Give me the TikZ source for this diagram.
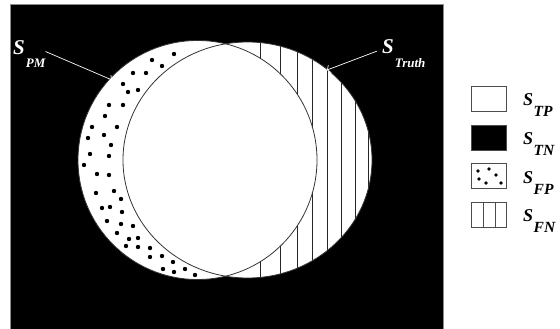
\documentclass[tikz,border=0pt]{standalone}
\usepackage{fontspec}
\setmainfont{Liberation Serif}
\usetikzlibrary{arrows.meta}
\begin{document}
\begin{tikzpicture}[x=1pt,y=-1pt,
  outl/.style={draw=black!80, line width=0.8pt},
  stripe/.style={draw=black!85, line width=0.8pt},
  pointer/.style={draw=white, line width=0.7pt, -{Straight Barb[length=2.5pt,width=8pt]}},
  lbl/.style={text=white, inner sep=0pt, anchor=base west},
  leg/.style={text=black, inner sep=0pt, anchor=base west},
  legbox/.style={draw=black!70, line width=0.8pt, minimum width=35pt, minimum height=25pt, inner sep=0pt, anchor=north west}
]
\useasboundingbox (0,0) rectangle (560,329);
\fill[white] (0,0) rectangle (560,329);
% black background of the diagram
\filldraw[fill=black, draw=black!45, line width=0.6pt] (10,4) rectangle (443,331);
% S_Truth region (right ellipse) with stripes
\fill[white] (247.5,160) ellipse [x radius=124.5, y radius=118];
\begin{scope}
  \clip (247.5,160) ellipse [x radius=124.5, y radius=118];
  \foreach \x in {260,280,297,312,327,341,355,368}
    \draw[stripe] (\x,30) -- (\x,290);
\end{scope}
% S_PM region (left circle)
\fill[white] (197.5,160) circle [radius=119.5];
% dots of the false positive crescent
\foreach \p in {(174,54),(152,60),(162,66),(133,73),(146,73),(123,84),(138,90),(128,92),
  (109,105),(123,105),(105,116),(92,127),(117,127),(104,135),(88,138),(111,145),(90,154),
  (109,156),(84,165),(97,174),(109,175),(96,193),(114,191),(121,199),(102,208),(110,207),
  (122,212),(107,221),(121,224),(133,226),(117,233),(129,239),(138,238),(126,246),(138,247),
  (150,248),(150,257),(162,256),(173,262),(163,269),(174,272),(185,269),(195,275)}
  \fill[black] \p circle [radius=2.2];
% outlines
\draw[outl] (197.5,160) circle [radius=119.5];
\draw[outl] (247.5,160) ellipse [x radius=124.5, y radius=118];
% labels and pointers
\node[lbl] (pmlbl) at (13,55) {\bfseries\itshape\fontsize{21}{21}\selectfont S\kern1pt\raisebox{-13pt}{\fontsize{13}{13}\selectfont PM}};
\node[lbl] (trlbl) at (382,54) {\bfseries\itshape\fontsize{21}{21}\selectfont S\kern1pt\raisebox{-14pt}{\fontsize{13}{13}\selectfont Truth}};
\coordinate (pmtip) at (112,80);
\coordinate (trtip) at (327,70);
\draw[pointer] ([yshift=3pt]pmlbl.east) -- (pmtip);
\draw[pointer] ([xshift=-5pt,yshift=3pt]trlbl.west) -- (trtip);
% legend
\node[legbox, fill=white] (tpbox) at (471,86) {};
\node[legbox, fill=black] (tnbox) at (471,124.5) {};
\node[legbox, fill=white] (fpbox) at (471,163) {};
\node[legbox, fill=white] (fnbox) at (471,201.5) {};
\foreach \p in {(478,171),(489,169),(496,175),(479,179),(486,183),(501,183)}
  \fill[black] \p circle [radius=1.9];
\draw[black!70, line width=0.8pt] (483,201.5) -- (483,226.5) (495,201.5) -- (495,226.5);
\node[leg] (tplbl) at (523,106) {\bfseries\itshape\fontsize{18}{18}\selectfont S\kern0.5pt\raisebox{-11pt}{\fontsize{15.5}{15.5}\selectfont TP}};
\node[leg] (tnlbl) at (523,144.5) {\bfseries\itshape\fontsize{18}{18}\selectfont S\kern0.5pt\raisebox{-11pt}{\fontsize{15.5}{15.5}\selectfont TN}};
\node[leg] (fplbl) at (523,183) {\bfseries\itshape\fontsize{18}{18}\selectfont S\kern0.5pt\raisebox{-11pt}{\fontsize{15.5}{15.5}\selectfont FP}};
\node[leg] (fnlbl) at (523,221.5) {\bfseries\itshape\fontsize{18}{18}\selectfont S\kern0.5pt\raisebox{-11pt}{\fontsize{15.5}{15.5}\selectfont FN}};
\end{tikzpicture}
\end{document}
